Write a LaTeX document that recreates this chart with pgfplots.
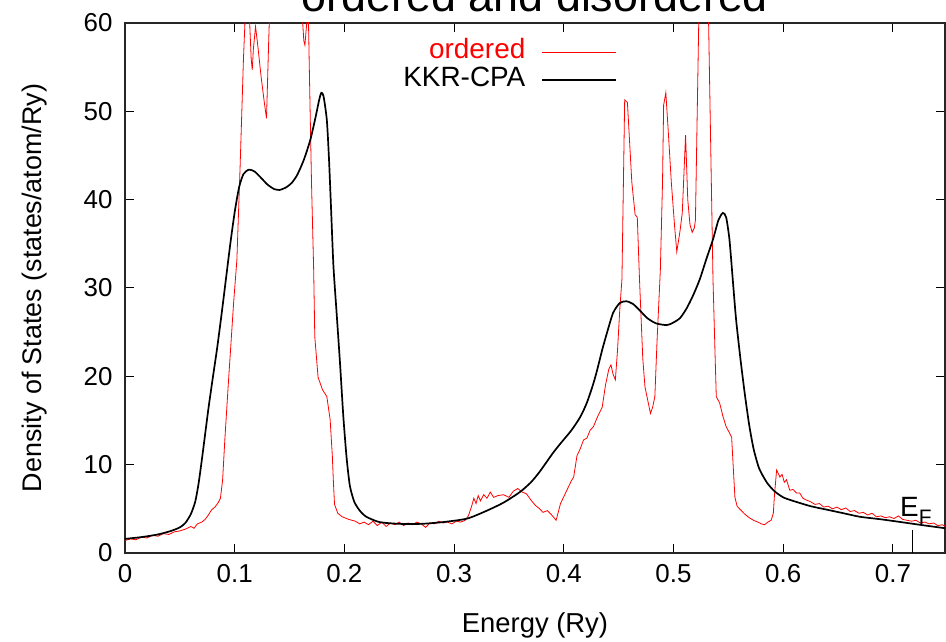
\documentclass[border=0pt]{standalone}
\usepackage{pgfplots}
\pgfplotsset{compat=1.18}
\usepackage{fontspec}
\setmainfont{Liberation Sans}
\begin{document}
\begin{tikzpicture}
\begin{axis}[
  scale only axis,
  width=820bp, height=530bp,
  at={(0bp,0bp)}, anchor=south west,
  xmin=0, xmax=0.7475, ymin=0, ymax=60,
  xtick={0,0.1,0.2,0.3,0.4,0.5,0.6,0.7},
  ytick={0,10,20,30,40,50,60},
  xticklabels={0,0.1,0.2,0.3,0.4,0.5,0.6,0.7},
  xtick pos=both, ytick pos=both,
  xticklabel pos=lower, yticklabel pos=left,
  tick align=inside,
  major tick length=9bp,
  every tick/.style={black, line width=1bp},
  axis line style={black!85, line width=1.3bp},
  /pgf/number format/assume math mode=true,
  tick label style={font=\fontsize{26}{26}\selectfont},
  xticklabel style={yshift=-8bp},
  yticklabel style={xshift=-9bp},
  xlabel={Energy (Ry)},
  ylabel={Density of States (states/atom/Ry)},
  every axis x label/.style={at={(axis description cs:0.5,0)}, yshift=-72bp, anchor=center, font=\fontsize{27.5}{28}\selectfont},
  every axis y label/.style={at={(axis description cs:0,0.5)}, xshift=-90bp, rotate=90, anchor=center, font=\fontsize{27}{28}\selectfont},
  legend plot pos=right,
  legend cell align=right,
  legend style={at={(axis description cs:0.6,0.9717)}, anchor=north east, draw=none, fill=none,
     inner sep=0pt, outer sep=0pt, column sep=16bp, row sep=0bp,
     font=\fontsize{28}{28}\selectfont,
     nodes={inner sep=0pt, text height=21bp, text depth=7bp}},
  legend image code/.code={\draw[#1] (0bp,0bp) -- (74bp,0bp);},
]
\addplot[red, line width=0.8bp] coordinates {
(0.000,1.4)(0.005,1.6)(0.010,1.5)(0.015,1.8)(0.020,1.7)(0.025,2.0)(0.030,1.9)(0.035,2.2)
(0.040,2.1)(0.045,2.4)(0.050,2.5)(0.055,2.7)(0.060,3.0)(0.063,2.8)(0.066,3.3)(0.070,3.5)
(0.073,3.8)(0.076,4.3)(0.079,4.9)(0.082,5.2)(0.085,5.7)(0.087,6.2)(0.089,8.3)(0.091,12.8)
(0.094,18.8)(0.097,24.5)(0.099,28.3)(0.102,33.2)(0.105,44)(0.108,56)(0.110,62)(0.113,62)
(0.115,56)(0.116,54.7)(0.117,57)(0.119,59.6)(0.121,57.5)(0.124,54)(0.127,51)(0.129,49.2)
(0.131,58)(0.133,66)(0.140,75)(0.150,75)(0.158,70)(0.161,62)(0.163,58)(0.164,57.5)
(0.165,59)(0.167,62)(0.168,55)(0.170,42)(0.172,32)(0.173,24.5)(0.176,19.9)(0.180,18.5)
(0.184,17.7)(0.187,15.1)(0.189,11)(0.190,8.0)(0.191,5.5)(0.194,4.5)(0.198,4.1)(0.204,3.8)
(0.210,3.6)(0.214,3.3)(0.218,3.5)(0.222,3.2)(0.226,3.6)(0.230,3.1)(0.234,3.5)(0.238,3.0)
(0.242,3.4)(0.246,3.2)(0.250,3.5)(0.254,3.1)(0.258,3.4)(0.262,3.2)(0.266,3.5)(0.270,3.3)
(0.274,2.9)(0.278,3.4)(0.282,3.3)(0.286,3.6)(0.290,3.4)(0.294,3.5)(0.298,3.3)(0.302,3.6)
(0.306,3.5)(0.310,3.7)(0.313,4.2)(0.316,5.3)(0.318,6.2)(0.320,5.6)(0.322,6.5)(0.324,5.9)
(0.327,6.6)(0.330,6.2)(0.333,6.9)(0.336,6.3)(0.340,6.5)(0.345,6.6)(0.350,6.3)(0.354,7.0)
(0.358,7.3)(0.362,6.9)(0.366,6.7)(0.370,6.0)(0.374,5.4)(0.378,5.0)(0.381,4.6)(0.385,4.8)
(0.389,4.3)(0.393,3.7)(0.397,5.6)(0.402,6.9)(0.407,8.2)(0.409,8.6)(0.412,11.0)(0.415,11.8)
(0.418,12.8)(0.421,13.0)(0.424,13.9)(0.427,14.3)(0.431,15.5)(0.435,16.5)(0.438,19.0)(0.441,20.8)
(0.443,21.3)(0.445,20.2)(0.447,19.6)(0.449,23)(0.451,27.5)(0.453,31)(0.4555,51.3)(0.458,51.0)
(0.460,46.5)(0.462,42)(0.465,38.3)(0.467,38.0)(0.469,31.0)(0.472,22)(0.474,18.8)(0.477,17.0)
(0.479,15.8)(0.481,16.5)(0.483,17.7)(0.485,24)(0.488,32)(0.490,42)(0.491,50.7)(0.493,52.1)
(0.495,48.2)(0.498,42)(0.501,37)(0.503,34.1)(0.506,36.5)(0.508,38.5)(0.511,47.3)(0.513,40.0)
(0.515,37.2)(0.517,36.3)(0.519,36.8)(0.520,37.7)(0.523,60)(0.525,68)(0.530,68)(0.532,60)
(0.536,31)(0.538,22)(0.539,17.7)(0.542,17.0)(0.545,15.5)(0.548,14.3)(0.551,13.6)(0.553,13.1)
(0.555,8.5)(0.556,6.3)(0.558,5.3)(0.561,4.9)(0.565,4.4)(0.569,4.0)(0.573,3.7)(0.577,3.5)
(0.580,3.3)(0.583,3.2)(0.586,3.5)(0.589,3.7)(0.591,4.5)(0.592,6.5)(0.594,9.4)(0.597,8.6)
(0.599,8.9)(0.601,8.0)(0.603,8.3)(0.606,7.1)(0.609,7.2)(0.612,6.8)(0.615,6.8)(0.618,6.2)
(0.621,6.0)(0.625,5.8)(0.629,5.5)(0.633,5.6)(0.637,5.2)(0.641,5.3)(0.645,5.0)(0.649,5.2)
(0.653,4.9)(0.657,5.1)(0.661,4.7)(0.665,4.8)(0.669,4.5)(0.673,4.6)(0.677,4.3)(0.681,4.5)
(0.685,4.1)(0.689,4.2)(0.693,4.0)(0.697,4.1)(0.701,3.9)(0.705,4.2)(0.709,3.8)(0.713,3.7)
(0.717,3.6)(0.721,3.7)(0.725,3.4)(0.729,3.5)(0.733,3.3)(0.737,3.4)(0.741,3.1)(0.745,3.2)
(0.748,3.0)
};
\addlegendentry{\textcolor{red}{ordered}}
\addplot[black, line width=1.7bp, smooth, tension=0.4] coordinates {
(0.000,1.6)(0.015,1.8)(0.030,2.1)(0.042,2.5)(0.050,2.9)(0.055,3.4)(0.060,4.4)(0.064,5.8)
(0.067,7.8)(0.070,10.5)(0.073,13.4)(0.076,16.3)(0.080,19.8)(0.084,23.2)(0.088,27.0)(0.092,31.0)
(0.096,35.0)(0.100,38.6)(0.104,41.4)(0.108,42.9)(0.113,43.4)(0.118,43.2)(0.123,42.6)(0.130,41.7)
(0.136,41.2)(0.141,41.1)(0.147,41.4)(0.152,41.9)(0.157,42.8)(0.163,44.5)(0.169,46.8)(0.174,49.5)
(0.177,51.3)(0.179,52.1)(0.181,51.7)(0.184,49.0)(0.186,44.5)(0.188,38.5)(0.190,32.5)(0.193,27.0)
(0.196,21.5)(0.199,15.5)(0.202,10.8)(0.205,7.6)(0.209,5.8)(0.214,4.8)(0.220,4.1)(0.232,3.5)
(0.250,3.3)(0.270,3.3)(0.290,3.5)(0.312,3.9)(0.330,4.8)(0.345,5.7)(0.360,6.9)(0.370,8.0)
(0.378,9.2)(0.390,11.3)(0.397,12.4)(0.407,13.9)(0.415,15.4)(0.421,17.0)(0.427,19.2)(0.431,21.0)
(0.435,23.0)(0.440,25.2)(0.445,27.2)(0.451,28.3)(0.457,28.5)(0.463,28.2)(0.469,27.5)(0.476,26.6)
(0.484,26.0)(0.494,25.8)(0.500,26.1)(0.506,26.6)(0.512,27.7)(0.518,29.2)(0.524,31.0)(0.530,33.3)
(0.536,35.5)(0.541,37.7)(0.545,38.5)(0.548,38.0)(0.551,35.5)(0.554,31.0)(0.557,26.5)(0.561,22.0)
(0.565,18.0)(0.569,14.5)(0.573,11.8)(0.578,9.6)(0.585,8.0)(0.592,7.0)(0.600,6.3)(0.609,5.9)
(0.625,5.3)(0.640,4.9)(0.655,4.5)(0.670,4.1)(0.690,3.8)(0.713,3.4)(0.730,3.1)(0.748,2.8)
};
\addlegendentry{KKR-CPA}
\addplot[black, line width=1.6bp, forget plot] coordinates {(0.718,0) (0.718,2.6)};
\node[anchor=base west, inner sep=0pt, font=\fontsize{28}{28}\selectfont] at (axis cs:0.7065,4.08)
  {E\raisebox{-8bp}{\fontsize{21}{21}\selectfont F}};
\end{axis}
\node[anchor=base, inner sep=0pt, font=\fontsize{45}{45}\selectfont] at (410bp,541bp) {ordered and disordered};
\pgfresetboundingbox
\useasboundingbox (-125bp,-89bp) rectangle (821bp,553bp);
\end{tikzpicture}
\end{document}
